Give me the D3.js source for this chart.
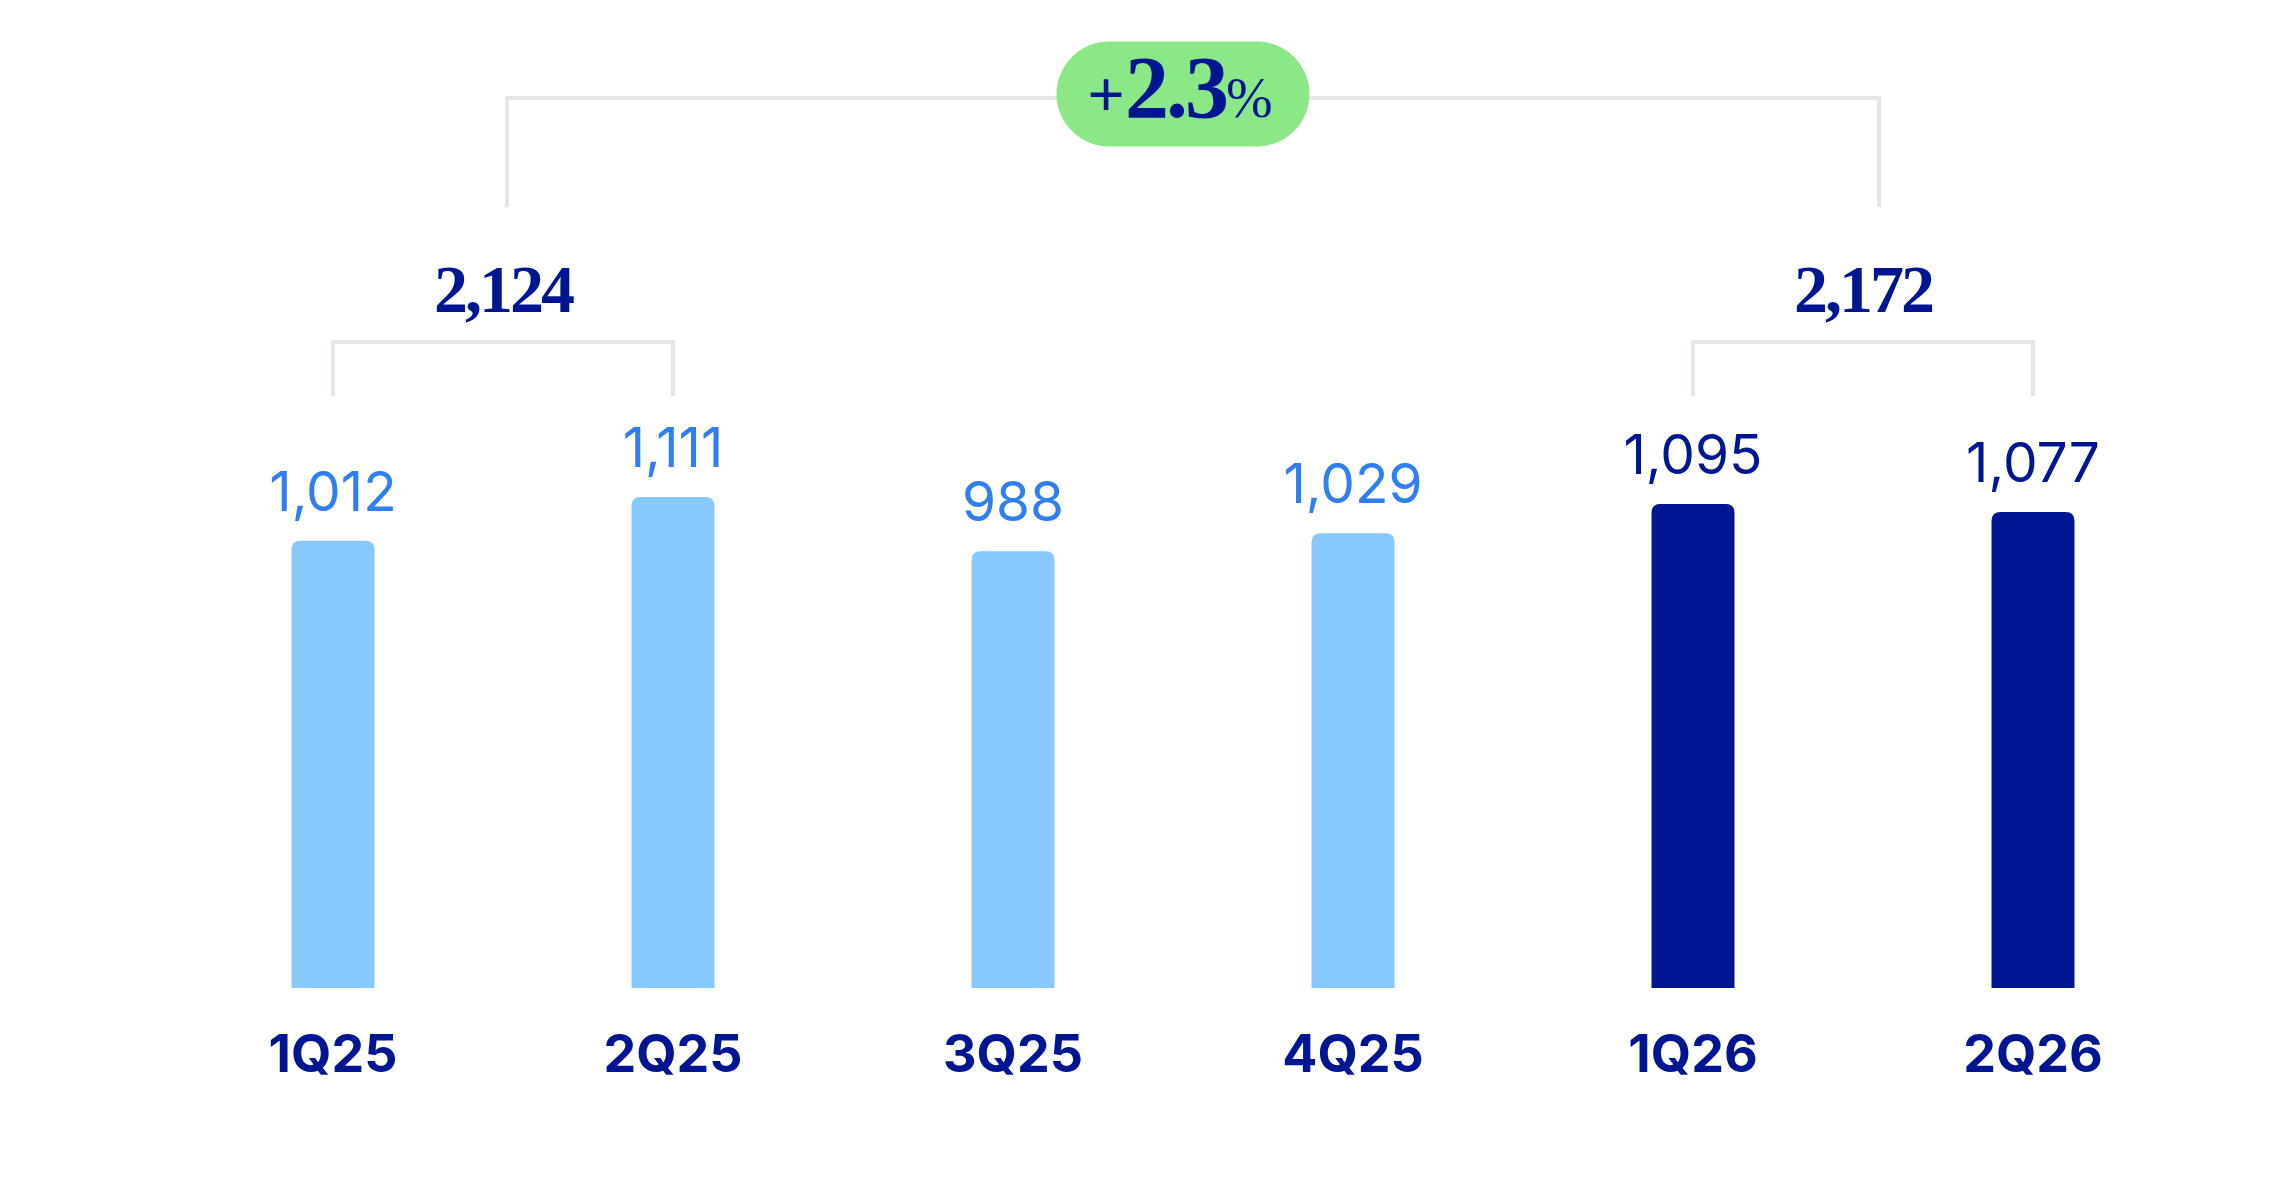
<!DOCTYPE html>
<html>
<head>
<meta charset="utf-8">
<script src="https://cdnjs.cloudflare.com/ajax/libs/d3/7.8.5/d3.min.js"></script>
<style>
  body { margin: 0; background: #fff; }
</style>
</head>
<body>
<div id="chart"></div>
<script>
// data
var quarters = ["1Q25", "2Q25", "3Q25", "4Q25", "1Q26", "2Q26"];
var values = [1012, 1111, 988, 1029, 1095, 1077];
var highlight = [false, false, false, false, true, true];
var halfTotals = [
  {label: "2,124", from: "1Q25", to: "2Q25"},
  {label: "2,172", from: "1Q26", to: "2Q26"}
];
var growthSign = "+", growthValue = "2.3", growthUnit = "%";

var width = 2292, height = 1188;
var navy = "#001591", lightBar = "#87C8FF", lightText = "#2F7FF0", grey = "#E3E6EB";

var svg = d3.select("#chart")
  .append("svg")
    .attr("width", width)
    .attr("height", height);

// scales
var x = d3.scaleBand()
  .domain(quarters)
  .range([163, 2203])
  .paddingInner(0.756)
  .paddingOuter(0.378);

var y = d3.scaleLinear()
  .domain([0, 2000])
  .range([988, 104]);

function cx(q) { return x(q) + x.bandwidth() / 2; }

// bars with rounded top corners
function barPath(x0, y0, w, h, r) {
  return "M" + x0 + "," + (y0 + h) +
    "V" + (y0 + r) +
    "Q" + x0 + "," + y0 + " " + (x0 + r) + "," + y0 +
    "H" + (x0 + w - r) +
    "Q" + (x0 + w) + "," + y0 + " " + (x0 + w) + "," + (y0 + r) +
    "V" + (y0 + h) + "Z";
}

var data = quarters.map(function(q, i) {
  return {q: q, v: values[i], hi: highlight[i]};
});

svg.append("g").selectAll("path")
  .data(data)
  .enter().append("path")
    .attr("d", function(d) {
      return barPath(x(d.q), y(d.v), x.bandwidth(), y(0) - y(d.v), 9);
    })
    .attr("fill", function(d) { return d.hi ? navy : lightBar; });

// value labels
svg.append("g").selectAll("text")
  .data(data)
  .enter().append("text")
    .attr("x", function(d) { return cx(d.q); })
    .attr("y", function(d) { return y(d.v) - 30; })
    .attr("text-anchor", "middle")
    .attr("font-family", "Inter, 'Noto Sans', sans-serif")
    .attr("font-size", 55)
    .attr("font-weight", 400)
    .attr("fill", function(d) { return d.hi ? navy : lightText; })
    .text(function(d) { return d3.format(",")(d.v); });

// category labels
svg.append("g").selectAll("text")
  .data(quarters)
  .enter().append("text")
    .attr("x", function(d) { return cx(d); })
    .attr("y", 1072)
    .attr("text-anchor", "middle")
    .attr("font-family", "Inter, 'Noto Sans', sans-serif")
    .attr("font-size", 52)
    .attr("font-weight", 700)
    .attr("fill", navy)
    .text(function(d) { return d; });

// half-year brackets and totals
var bracketTop = 342, bracketBottom = 396;
halfTotals.forEach(function(h) {
  var x1 = cx(h.from), x2 = cx(h.to);
  svg.append("path")
    .attr("d", "M" + x1 + "," + bracketBottom + "V" + bracketTop + "H" + x2 + "V" + bracketBottom)
    .attr("fill", "none")
    .attr("stroke", grey)
    .attr("stroke-width", 4);
  svg.append("text")
    .attr("x", (x1 + x2) / 2)
    .attr("y", 312)
    .attr("text-anchor", "middle")
    .attr("font-family", "'Liberation Serif', serif")
    .attr("font-size", 68)
    .attr("font-weight", 700)
    .attr("letter-spacing", -3)
    .attr("fill", navy)
    .text(h.label);
});

// top bracket between the two half-year totals
var m1 = (cx(halfTotals[0].from) + cx(halfTotals[0].to)) / 2 + 4;
var m2 = (cx(halfTotals[1].from) + cx(halfTotals[1].to)) / 2 + 16;
svg.append("path")
  .attr("d", "M" + m1 + ",207V98H" + m2 + "V207")
  .attr("fill", "none")
  .attr("stroke", grey)
  .attr("stroke-width", 4);

// growth pill
var pillX = 1183, pillY = 94, pillW = 253, pillH = 105;
svg.append("rect")
  .attr("x", pillX - pillW / 2)
  .attr("y", pillY - pillH / 2)
  .attr("width", pillW)
  .attr("height", pillH)
  .attr("rx", pillH / 2)
  .attr("fill", "#8BE886");

var pt = svg.append("text")
  .attr("x", pillX - 3)
  .attr("y", 117)
  .attr("text-anchor", "middle")
  .attr("font-family", "'Liberation Serif', serif")
  .attr("font-weight", 700)
  .attr("fill", navy);
pt.append("tspan").attr("font-size", 66).text(growthSign);
pt.append("tspan").attr("font-size", 88).attr("letter-spacing", -3).text(growthValue);
pt.append("tspan").attr("font-size", 56).attr("font-weight", 400).text(growthUnit);
</script>
</body>
</html>
